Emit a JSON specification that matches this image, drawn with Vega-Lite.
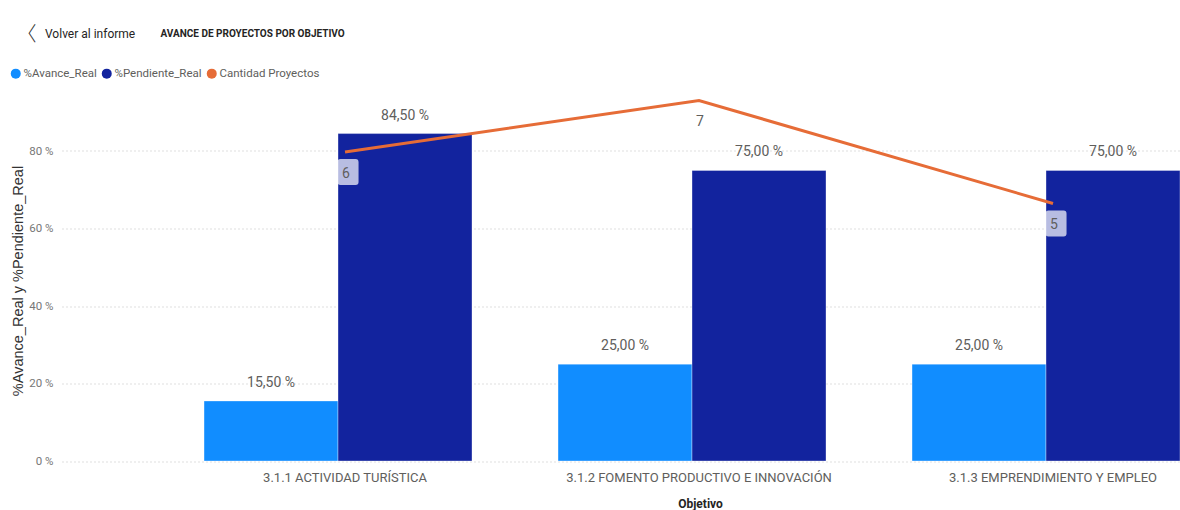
{
  "$schema": "https://vega.github.io/schema/vega-lite/v6.json",
  "width": 1118,
  "height": 387.5,
  "autosize": {"type": "none"},
  "padding": {"left": 62, "top": 73.5, "right": 0, "bottom": 49},
  "background": "white",
  "title": {
    "text": "Volver al informe",
    "anchor": "start",
    "frame": "group",
    "dx": -17,
    "offset": -17,
    "font": "Roboto",
    "fontSize": 12,
    "fontWeight": "normal",
    "color": "#252423"
  },
  "config": {
    "locale": {"number": {"decimal": ",", "thousands": ".", "grouping": [3], "currency": ["", " %"]}},
    "view": {"stroke": null},
    "font": "Roboto"
  },
  "datasets": {
    "barras": [
      {"objetivo": "3.1.1 ACTIVIDAD TURÍSTICA", "serie": "%Avance_Real", "valor": 15.5},
      {"objetivo": "3.1.1 ACTIVIDAD TURÍSTICA", "serie": "%Pendiente_Real", "valor": 84.5},
      {"objetivo": "3.1.2 FOMENTO PRODUCTIVO E INNOVACIÓN", "serie": "%Avance_Real", "valor": 25},
      {"objetivo": "3.1.2 FOMENTO PRODUCTIVO E INNOVACIÓN", "serie": "%Pendiente_Real", "valor": 75},
      {"objetivo": "3.1.3 EMPRENDIMIENTO Y EMPLEO", "serie": "%Avance_Real", "valor": 25},
      {"objetivo": "3.1.3 EMPRENDIMIENTO Y EMPLEO", "serie": "%Pendiente_Real", "valor": 75}
    ],
    "lineas": [
      {"objetivo": "3.1.1 ACTIVIDAD TURÍSTICA", "cantidad": 6},
      {"objetivo": "3.1.2 FOMENTO PRODUCTIVO E INNOVACIÓN", "cantidad": 7},
      {"objetivo": "3.1.3 EMPRENDIMIENTO Y EMPLEO", "cantidad": 5}
    ]
  },
  "layer": [
    {
      "data": {"name": "barras"},
      "encoding": {
        "x": {
          "field": "objetivo",
          "type": "nominal",
          "sort": null,
          "scale": {
            "domain": ["3.1.1 ACTIVIDAD TURÍSTICA", "3.1.2 FOMENTO PRODUCTIVO E INNOVACIÓN", "3.1.3 EMPRENDIMIENTO Y EMPLEO"],
            "paddingInner": 0.243,
            "paddingOuter": 0.2006,
            "align": 1
          },
          "axis": {
            "title": "Objetivo",
            "labelAngle": 0,
            "labelFontSize": 13,
            "labelColor": "#605E5C",
            "labelPadding": 10,
            "labelOffset": 7,
            "labelLimit": 0,
            "labelBaseline": "top",
            "ticks": false,
            "domain": false,
            "grid": false,
            "titleFontSize": 12,
            "titleFontWeight": "bold",
            "titleColor": "#252423",
            "titleX": 638,
            "titleY": 42,
            "titleBaseline": "middle",
            "titleAlign": "center"
          }
        },
        "xOffset": {
          "field": "serie",
          "type": "nominal",
          "sort": null,
          "scale": {"domain": ["%Avance_Real", "%Pendiente_Real"], "paddingInner": 0, "paddingOuter": 0}
        },
        "y": {
          "field": "valor",
          "type": "quantitative",
          "scale": {"domain": [0, 100], "nice": false},
          "axis": {
            "title": "%Avance_Real y %Pendiente_Real",
            "values": [0, 20, 40, 60, 80],
            "format": "$.0f",
            "labelFontSize": 11.5,
            "labelColor": "#777777",
            "labelPadding": 9,
            "ticks": false,
            "domain": false,
            "grid": true,
            "gridDash": [1, 3],
            "gridColor": "#bfbfbf",
            "gridWidth": 1,
            "titleFont": "Liberation Sans",
            "titleFontSize": 14.5,
            "titleFontWeight": "normal",
            "titleColor": "#333333",
            "titleX": -44,
            "titleY": 207,
            "titleAlign": "center",
            "titleBaseline": "middle",
            "titleAngle": -90
          }
        }
      },
      "layer": [
        {
          "mark": {"type": "bar", "stroke": "#ffffff", "strokeOpacity": 0.35, "strokeWidth": 1},
          "encoding": {
            "color": {
              "field": "serie",
              "type": "nominal",
              "scale": {
                "domain": ["%Avance_Real", "%Pendiente_Real", "Cantidad Proyectos"],
                "range": ["#118DFF", "#12239E", "#E66C37"]
              },
              "legend": {
                "orient": "none",
                "legendX": -52,
                "legendY": -6,
                "direction": "horizontal",
                "title": null,
                "symbolType": "circle",
                "symbolSize": 100,
                "symbolStrokeWidth": 0,
                "labelFontSize": 11.5,
                "labelColor": "#605E5C",
                "labelOffset": 2,
                "columnPadding": 4
              }
            }
          }
        },
        {
          "mark": {"type": "text", "baseline": "middle", "dy": -18, "fontSize": 14, "color": "#605E5C"},
          "encoding": {"text": {"field": "valor", "type": "quantitative", "format": "$.2f"}}
        }
      ]
    },
    {
      "data": {"name": "lineas"},
      "encoding": {
        "x": {
          "field": "objetivo",
          "type": "nominal",
          "sort": null,
          "axis": {
            "orient": "top",
            "labels": false,
            "ticks": false,
            "domain": false,
            "grid": false,
            "title": "〈",
            "titleFont": "Noto Sans CJK SC",
            "titleFontWeight": 300,
            "titleFontSize": 20,
            "titleColor": "#333333",
            "titleX": -36,
            "titleY": -39.5,
            "titleAlign": "center",
            "titleBaseline": "middle"
          }
        },
        "y": {
          "field": "cantidad",
          "type": "quantitative",
          "scale": {"domain": [0, 7.524], "nice": false, "zero": true},
          "axis": {
            "orient": "right",
            "labels": false,
            "ticks": false,
            "domain": false,
            "grid": false,
            "title": "AVANCE DE PROYECTOS POR OBJETIVO",
            "titleAngle": 0,
            "titleX": -1020,
            "titleY": -40.5,
            "titleAlign": "left",
            "titleBaseline": "middle",
            "titleFontSize": 10,
            "titleFontWeight": "bold",
            "titleColor": "#252423"
          }
        }
      },
      "layer": [
        {
          "mark": {"type": "line", "stroke": "#E66C37", "strokeWidth": 3, "xOffset": 7}
        },
        {
          "mark": {
            "type": "point",
            "shape": "M-0.58,-1 H0.58 Q0.81,-1 0.81,-0.77 V0.77 Q0.81,1 0.58,1 H-0.58 Q-0.81,1 -0.81,0.77 V-0.77 Q-0.81,-1 -0.58,-1 Z",
            "size": 676,
            "filled": true,
            "fill": "#ffffff",
            "fillOpacity": 0.7,
            "opacity": 1,
            "strokeWidth": 0,
            "xOffset": 10,
            "yOffset": 20
          }
        },
        {
          "mark": {"type": "text", "baseline": "middle", "fontSize": 14, "color": "#605E5C", "xOffset": 8, "yOffset": 22},
          "encoding": {"text": {"field": "cantidad", "type": "quantitative", "format": "d"}}
        }
      ]
    }
  ],
  "resolve": {"scale": {"y": "independent"}, "axis": {"x": "independent"}}
}
